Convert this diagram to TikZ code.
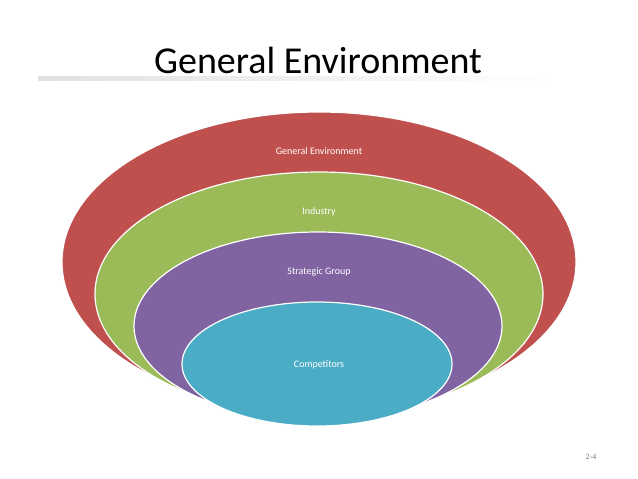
\documentclass[tikz,border=0pt]{standalone}
\usepackage{fontspec}
\setmainfont{Carlito}
\newfontfamily\serifnum{Liberation Serif}
\begin{document}
\begin{tikzpicture}[x=1pt,y=-1pt,
  ring/.style={draw=white,line width=1.2pt},
  lbl/.style={text=white,font=\fontsize{10}{12}\selectfont}]
\useasboundingbox (0,0) rectangle (638,479);
\shade[left color=black!12,right color=white] (38,76) rectangle (560,80);
\node[font=\fontsize{38}{44}\selectfont] (title) at (318,60) {General Environment};
\fill[ring,fill={rgb,255:red,192;green,80;blue,77}] (319,262) ellipse [x radius=257,y radius=150];
\fill[ring,fill={rgb,255:red,155;green,187;blue,89}] (319,294) ellipse [x radius=224,y radius=122];
\fill[ring,fill={rgb,255:red,128;green,100;blue,162}] (318,326) ellipse [x radius=184,y radius=94];
\fill[ring,fill={rgb,255:red,75;green,172;blue,198}] (317,364) ellipse [x radius=135,y radius=62];
\node[lbl] (ge) at (319,151) {General Environment};
\node[lbl] (ind) at (319,212) {Industry};
\node[lbl] (sg) at (319,272) {Strategic Group};
\node[lbl] (comp) at (319,365) {Competitors};
\node[text=black!55,font=\serifnum\fontsize{8}{10}\selectfont] (pg) at (591,457) {2-4};
\end{tikzpicture}
\end{document}
